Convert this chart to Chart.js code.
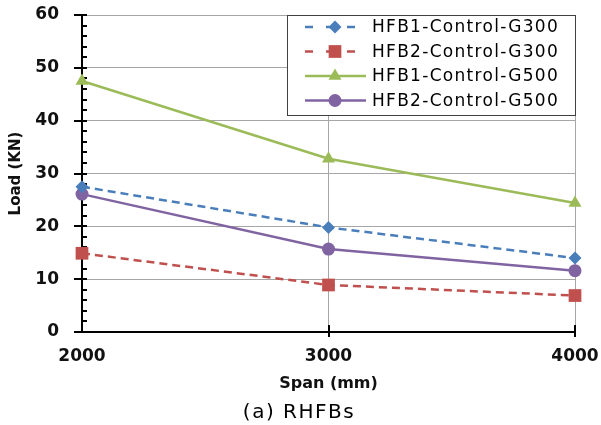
<!DOCTYPE html>
<html>
<head>
<meta charset="utf-8">
<script src="https://cdn.jsdelivr.net/npm/chart.js@4.4.1/dist/chart.umd.min.js"></script>
<style>
  html, body { margin: 0; padding: 0; background: #ffffff; }
  canvas { display: block; }
</style>
</head>
<body>
<canvas id="c" width="601" height="425"></canvas>
<script>
// ---- data ----
const spans = [2000, 3000, 4000];
const seriesNames = ['HFB1-Control-G300', 'HFB2-Control-G300', 'HFB1-Control-G500', 'HFB2-Control-G500'];
const hfb1G300 = [27.5, 19.8, 14.0];
const hfb2G300 = [14.9, 8.9, 6.9];
const hfb1G500 = [47.5, 32.8, 24.4];
const hfb2G500 = [26.1, 15.7, 11.6];
const yTicks = [0, 10, 20, 30, 40, 50, 60];
const xTicks = [2000, 3000, 4000];
const xTitle = 'Span (mm)';
const yTitle = 'Load (KN)';
const caption = '(a) RHFBs';

const styles = [
  { color: '#4a7ebb', dash: [8, 5], point: 'rectRot', r: 6.5 },
  { color: '#c0504d', dash: [8, 5], point: 'rect', r: 9 },
  { color: '#9bbb59', dash: [], point: 'triangle', r: 7.5 },
  { color: '#8064a2', dash: [], point: 'circle', r: 6.5 }
];
const seriesValues = [hfb1G300, hfb2G300, hfb1G500, hfb2G500];

const datasets = seriesValues.map((vals, i) => ({
  label: seriesNames[i],
  data: vals.map((v, j) => ({ x: spans[j], y: v })),
  borderColor: styles[i].color,
  backgroundColor: styles[i].color,
  borderWidth: 2.5,
  borderDash: styles[i].dash,
  pointStyle: styles[i].point,
  pointRadius: styles[i].r,
  pointBackgroundColor: styles[i].color,
  pointBorderColor: styles[i].color,
  pointBorderWidth: 0,
  pointHoverRadius: styles[i].r,
  tension: 0,
  clip: false
}));

const FONT = '"DejaVu Sans", sans-serif';

const tickPlugin = {
  id: 'axisTicks',
  beforeDatasetsDraw(chart) {
    const ctx = chart.ctx;
    const xs = chart.scales.x, ys = chart.scales.y;
    const ca = chart.chartArea;
    ctx.save();
    ctx.strokeStyle = '#000';
    ctx.lineWidth = 2;
    for (const v of yTicks) {
      const y = Math.round(ys.getPixelForValue(v));
      ctx.beginPath(); ctx.moveTo(ca.left - 8, y); ctx.lineTo(ca.left + 5, y); ctx.stroke();
    }
    for (let v = 0; v < 60; v += 2) {
      if (v % 10 === 0) continue;
      const y = Math.round(ys.getPixelForValue(v));
      ctx.beginPath(); ctx.moveTo(ca.left, y); ctx.lineTo(ca.left + 5, y); ctx.stroke();
    }
    for (const v of xTicks) {
      if (v === xTicks[0]) continue;
      const x = Math.round(xs.getPixelForValue(v));
      ctx.beginPath(); ctx.moveTo(x, ca.bottom - 7); ctx.lineTo(x, ca.bottom + 5); ctx.stroke();
    }
    ctx.restore();
  }
};

const legendPlugin = {
  id: 'boxLegend',
  afterDraw(chart) {
    const ctx = chart.ctx;
    ctx.save();
    const bx = 287, by = 15, bw = 289, bh = 101;
    ctx.fillStyle = '#ffffff';
    ctx.fillRect(bx, by, bw, bh);
    ctx.strokeStyle = '#404040';
    ctx.lineWidth = 1;
    ctx.strokeRect(bx + 0.5, by + 0.5, bw - 1, bh - 1);
    const rows = [27, 51.5, 76, 100.5];
    chart.data.datasets.forEach((ds, i) => {
      const y = rows[i];
      const st = styles[i];
      ctx.strokeStyle = st.color;
      ctx.lineWidth = 2.5;
      if (st.dash.length) ctx.setLineDash([8, 13]);
      ctx.beginPath(); ctx.moveTo(305, y); ctx.lineTo(366, y); ctx.stroke();
      ctx.setLineDash([]);
      ctx.fillStyle = st.color;
      Chart.helpers.drawPoint(ctx, { pointStyle: st.point, radius: st.r, rotation: 0, borderWidth: 0 }, 335, y);
      ctx.fillStyle = '#000';
      ctx.font = '17px ' + FONT;
      ctx.letterSpacing = '1.3px';
      ctx.textBaseline = 'middle';
      ctx.textAlign = 'left';
      ctx.fillText(ds.label, 372, y + 1);
      ctx.letterSpacing = '0px';
    });
    ctx.fillStyle = '#000';
    ctx.font = '20px ' + FONT;
    ctx.letterSpacing = '1.5px';
    ctx.textAlign = 'center';
    ctx.textBaseline = 'middle';
    ctx.fillText(caption, 299, 413);
    ctx.letterSpacing = '0px';
    ctx.restore();
  }
};

new Chart(document.getElementById('c'), {
  type: 'line',
  data: { datasets },
  options: {
    responsive: false,
    animation: false,
    devicePixelRatio: 1,
    layout: { padding: { left: 0, right: 26, top: 15, bottom: 32 } },
    plugins: {
      legend: { display: false },
      tooltip: { enabled: false },
      title: { display: false }
    },
    scales: {
      x: {
        type: 'linear',
        min: 2000, max: 4000,
        afterFit(s) { s.height = 61; s.paddingLeft = 0; s.paddingRight = 0; },
        afterBuildTicks(s) { s.ticks = xTicks.map(v => ({ value: v })); },
        grid: { color: '#a6a6a6', lineWidth: 1, drawTicks: false },
        border: { color: '#000', width: 2 },
        ticks: {
          padding: 14,
          color: '#111',
          font: { family: FONT, size: 17, weight: 'bold' },
          maxRotation: 0,
          callback: v => String(v)
        },
        title: {
          display: true, text: xTitle, color: '#111',
          font: { family: FONT, size: 16, weight: 'bold' },
          padding: 0
        }
      },
      y: {
        min: 0, max: 60,
        afterFit(s) { s.width = 82; s.paddingTop = 0; s.paddingBottom = 0; },
        afterBuildTicks(s) { s.ticks = yTicks.map(v => ({ value: v })); },
        grid: { color: '#a6a6a6', lineWidth: 1, drawTicks: false },
        border: { color: '#000', width: 2 },
        ticks: {
          padding: 23,
          color: '#111',
          font: { family: FONT, size: 17, weight: 'bold' },
          callback: v => String(v)
        },
        title: {
          display: true, text: yTitle, color: '#111',
          font: { family: FONT, size: 15, weight: 'bold' },
          padding: { top: 7, bottom: 0 }
        }
      }
    }
  },
  plugins: [tickPlugin, legendPlugin]
});
</script>
</body>
</html>
